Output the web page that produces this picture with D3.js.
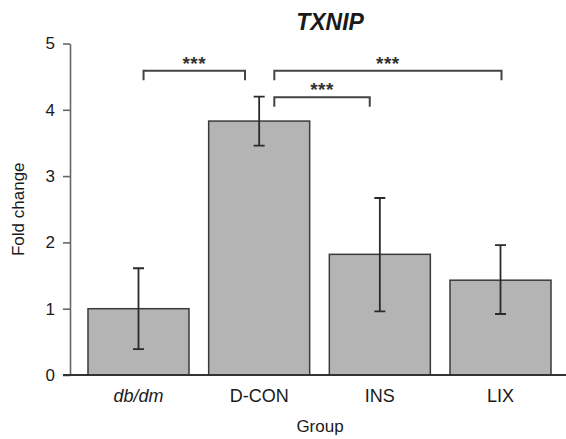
<!DOCTYPE html>
<html lang="en">
<head>
  <meta charset="UTF-8">
  <title>TXNIP</title>
  <style>
    body {
      margin: 0;
      background-color: #fff;
    }

    text {
      font-family: "Liberation Sans", Arial, sans-serif;
      fill: #1a1a1a;
    }

    .bar {
      fill: #b4b4b4;
      stroke: #3a3a3a;
      stroke-width: 1.5;
    }

    .err {
      stroke: #2a2a2a;
      stroke-width: 1.8;
      fill: none;
    }

    .bracket {
      stroke: #444;
      stroke-width: 2;
      fill: none;
    }

    .stars {
      font-size: 19px;
      font-weight: bold;
      text-anchor: middle;
      letter-spacing: 0.5px;
      fill: #333;
    }

    .axis path, .axis line {
      stroke: #666;
      stroke-width: 1.6;
    }

    .axis text {
      font-size: 17px;
      fill: #1a1a1a;
    }
  </style>
</head>
<body>
  <script src="https://d3js.org/d3.v7.min.js"></script>
  <script>
    // values
    var groups = ['db/dm', 'D-CON', 'INS', 'LIX'];
    var means = [1.0, 3.83, 1.82, 1.43];
    var errLow = [0.39, 3.46, 0.96, 0.92];
    var errHigh = [1.61, 4.20, 2.67, 1.96];
    var yTicks = [0, 1, 2, 3, 4, 5];

    // significance brackets: from group, to group, where along each bar, height
    var compFrom = ['db/dm', 'D-CON', 'D-CON'];
    var compTo = ['D-CON', 'LIX', 'INS'];
    var compFromAt = [0.55, 0.65, 0.65];
    var compToAt = [0.36, 0.51, 0.40];
    var compLevel = [4.59, 4.59, 4.19];
    var compLabel = ['***', '***', '***'];

    var width = 566,
        height = 439;

    var svg = d3.select('body').append('svg')
      .attr('width', width)
      .attr('height', height);

    var x = d3.scaleBand()
      .domain(groups)
      .range([78.15, 560.85])
      .paddingInner(0.163)
      .paddingOuter(0.0816);

    var y = d3.scaleLinear()
      .domain([0, 5])
      .range([375, 43.5]);

    // bars
    svg.selectAll('.bar')
      .data(groups)
      .enter().append('rect')
      .attr('class', 'bar')
      .attr('x', function(d) { return x(d); })
      .attr('width', x.bandwidth())
      .attr('y', function(d, i) { return y(means[i]); })
      .attr('height', function(d, i) { return y(0) - y(means[i]); });

    // error bars
    var cap = 5.5;
    svg.selectAll('.err')
      .data(groups)
      .enter().append('path')
      .attr('class', 'err')
      .attr('d', function(d, i) {
        var cx = x(d) + x.bandwidth() / 2;
        return 'M' + cx + ',' + y(errLow[i]) + 'V' + y(errHigh[i]) +
          'M' + (cx - cap) + ',' + y(errHigh[i]) + 'H' + (cx + cap) +
          'M' + (cx - cap) + ',' + y(errLow[i]) + 'H' + (cx + cap);
      });

    // axes
    var yAxis = d3.axisLeft(y)
      .tickValues(yTicks)
      .tickFormat(d3.format('d'))
      .tickSize(7)
      .tickSizeOuter(0)
      .tickPadding(8);

    svg.append('g')
      .attr('class', 'axis')
      .attr('transform', 'translate(70,0)')
      .call(yAxis);

    // x baseline
    svg.append('line')
      .attr('x1', 63)
      .attr('x2', width)
      .attr('y1', y(0))
      .attr('y2', y(0))
      .attr('stroke', '#333')
      .attr('stroke-width', 2.2);

    // group labels
    svg.selectAll('.xlab')
      .data(groups)
      .enter().append('text')
      .attr('class', 'xlab')
      .attr('x', function(d) { return x(d) + x.bandwidth() / 2; })
      .attr('y', 402)
      .attr('text-anchor', 'middle')
      .style('font-size', '18px')
      .style('font-style', function(d, i) { return i === 0 ? 'italic' : 'normal'; })
      .text(function(d) { return d; });

    // brackets
    var tick = 9.5;
    svg.selectAll('.bracket')
      .data(compFrom)
      .enter().append('path')
      .attr('class', 'bracket')
      .attr('d', function(d, i) {
        var x1 = x(d) + x.bandwidth() * compFromAt[i];
        var x2 = x(compTo[i]) + x.bandwidth() * compToAt[i];
        var yy = y(compLevel[i]);
        return 'M' + x1 + ',' + (yy + tick) + 'V' + yy + 'H' + x2 + 'V' + (yy + tick);
      });

    svg.selectAll('.stars')
      .data(compFrom)
      .enter().append('text')
      .attr('class', 'stars')
      .attr('x', function(d, i) {
        var x1 = x(d) + x.bandwidth() * compFromAt[i];
        var x2 = x(compTo[i]) + x.bandwidth() * compToAt[i];
        return (x1 + x2) / 2;
      })
      .attr('y', function(d, i) { return y(compLevel[i]) - 1; })
      .text(function(d, i) { return compLabel[i]; });

    // titles
    svg.append('text')
      .attr('x', 330)
      .attr('y', 30)
      .attr('text-anchor', 'middle')
      .style('font-size', '23px')
      .style('font-weight', 'bold')
      .style('font-style', 'italic')
      .text('TXNIP');

    svg.append('text')
      .attr('x', 320)
      .attr('y', 432)
      .attr('text-anchor', 'middle')
      .style('font-size', '17px')
      .text('Group');

    svg.append('text')
      .attr('transform', 'translate(24,' + (y(0) + y(5)) / 2 + ') rotate(-90)')
      .attr('text-anchor', 'middle')
      .style('font-size', '17px')
      .text('Fold change');
  </script>
</body>
</html>
